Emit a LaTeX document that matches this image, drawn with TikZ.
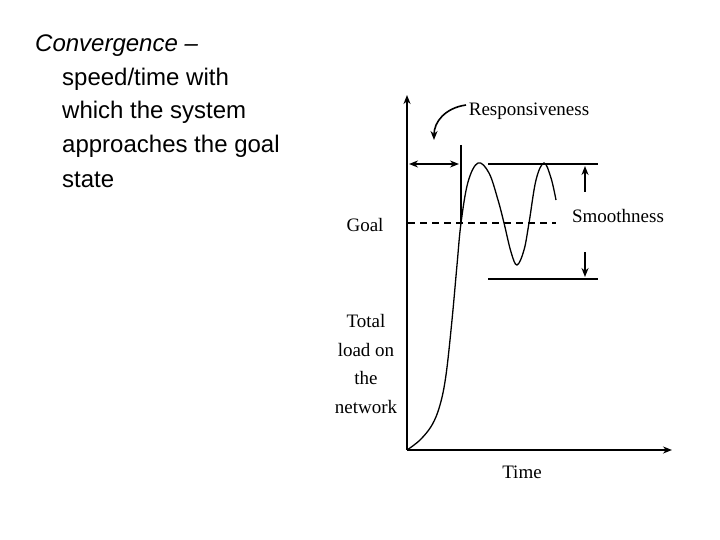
\documentclass[tikz,border=0pt]{standalone}
\usepackage{fontspec}
\usetikzlibrary{arrows.meta}
\setmainfont{Liberation Sans}
\newfontfamily\serifx{Liberation Serif}
\begin{document}
\begin{tikzpicture}[x=1pt,y=-1pt,
  body/.style={anchor=west,inner sep=0pt,font=\fontsize{24}{28}\selectfont},
  lab/.style={inner sep=0pt,font=\serifx\fontsize{19}{23}\selectfont},
  ln/.style={line width=1.6pt},
  ar/.style={ln,-{Stealth[length=9pt,width=7pt]}}]
\useasboundingbox (0,0) rectangle (720,540);
\node[body] (t1) at (35,46) {\itshape Convergence –};
\node[body] (t2) at (62,79) {speed/time with};
\node[body] (t3) at (62,112) {which the system};
\node[body] (t4) at (62,146) {approaches the goal};
\node[body] (t5) at (62,180) {state};
\coordinate (o) at (407,450);
\coordinate (ytop) at (407,95);
\coordinate (xend) at (672,450);
\draw[ar] (o) -- (ytop);
\draw[ar] (o) -- (xend);
\node[lab] (goal) at (365,225) {Goal};
\node[lab,align=center,font=\serifx\fontsize{19}{28.5}\selectfont] (yl) at (366,364) {Total\\load on\\the\\network};
\node[lab] (time) at (522,472) {Time};
\node[lab] (resp) at (529,111) {Responsiveness};
\node[lab] (smooth) at (618,216) {Smoothness};
\coordinate (v1) at (461,145); \coordinate (v2) at (461,224);
\draw[ln] (v1) -- (v2);
\coordinate (d1) at (409,164); \coordinate (d2) at (459,164);
\draw[ln,{Stealth[length=9pt,width=7pt]}-{Stealth[length=9pt,width=7pt]}] (d1) -- (d2);
\coordinate (h1) at (488,164); \coordinate (h2) at (598,164);
\coordinate (l1) at (488,279); \coordinate (l2) at (598,279);
\draw[ln] (h1) -- (h2);
\draw[line width=1.2pt] (l1) -- (l2);
\coordinate (g1) at (408,223); \coordinate (g2) at (556,223);
\draw[ln,dash pattern=on 7pt off 5pt] (g1) -- (g2);
\coordinate (su0) at (585,192); \coordinate (su1) at (585,166);
\coordinate (sd0) at (585,252); \coordinate (sd1) at (585,277);
\draw[ar] (su0) -- (su1);
\draw[ar] (sd0) -- (sd1);
\coordinate (ca) at (466,105); \coordinate (cb) at (434,140);
\draw[ar] (ca) .. controls (445,108) and (434,122) .. (cb);
\draw[line width=1.3pt] plot[smooth,tension=0.6] coordinates {(407,450) (420,440) (432,425) (440,405) (446,375) (452,320) (457,265) (461,223) (468,182) (478,163) (489,173) (498,200) (504,223) (511,252) (517,265) (524,250) (529,223) (536,180) (544,163) (551,178) (556,200)};
\end{tikzpicture}
\end{document}
